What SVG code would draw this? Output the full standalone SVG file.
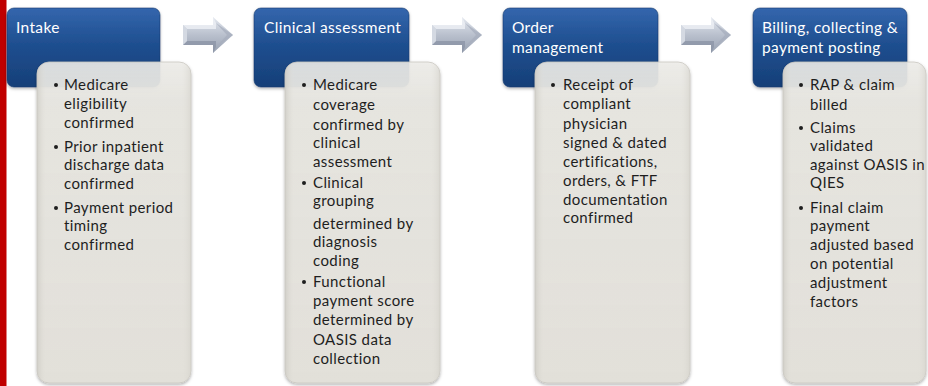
<svg xmlns="http://www.w3.org/2000/svg" width="928" height="386" viewBox="0 0 928 386">
<style>
.hd{font-family:Lato,"Noto Sans","DejaVu Sans",sans-serif;font-size:15.5px;letter-spacing:0.35px;fill:#ffffff}
.bd{font-family:Lato,"Noto Sans","DejaVu Sans",sans-serif;font-size:15px;letter-spacing:0.4px;fill:#1e1e1e}
.blue{fill:url(#gBlue);stroke:#163a6e;stroke-width:0.6}
.gray{fill:url(#gGray);stroke:#c9c7c0;stroke-width:0.8}
.bul{fill:#1e1e1e}
</style>
<defs>
<linearGradient id="gBlue" x1="0" y1="0" x2="0" y2="1">
<stop offset="0" stop-color="#3466ad"/>
<stop offset="0.45" stop-color="#1f4f90"/>
<stop offset="1" stop-color="#163f78"/>
</linearGradient>
<linearGradient id="gGray" x1="0" y1="0" x2="0" y2="1">
<stop offset="0" stop-color="#efeeea" stop-opacity="0.88"/>
<stop offset="0.12" stop-color="#e6e5e0" stop-opacity="0.95"/>
<stop offset="1" stop-color="#e2e0d9"/>
</linearGradient>
<linearGradient id="gGrayEdge" x1="0" y1="0" x2="1" y2="0">
<stop offset="0" stop-color="#c9c7c0" stop-opacity="0.7"/>
<stop offset="0.06" stop-color="#e2e0d9" stop-opacity="0"/>
<stop offset="0.94" stop-color="#e2e0d9" stop-opacity="0"/>
<stop offset="1" stop-color="#d2d0c9" stop-opacity="0.6"/>
</linearGradient>
<linearGradient id="gArrow" x1="0" y1="0" x2="0" y2="1">
<stop offset="0" stop-color="#e4e8ef"/>
<stop offset="0.5" stop-color="#b9c0cd"/>
<stop offset="1" stop-color="#98a1b1"/>
</linearGradient>
<filter id="sh" x="-10%" y="-10%" width="120%" height="120%">
<feDropShadow dx="0" dy="1.5" stdDeviation="1.5" flood-color="#000" flood-opacity="0.3"/>
</filter>
<g id="arrow">
<path d="M0,8 L30,8 L30,0 L50,18 L30,36 L30,28 L0,28 Z" fill="url(#gArrow)"/>
<path d="M0,8 L30,8 L30,0 L33,6 L33,12 L4,12 Z" fill="#eef0f5" opacity="0.8"/>
<path d="M0,28 L4,24 L33,24 L33,30 L30,36 L30,28 Z" fill="#8c95a6" opacity="0.8"/>
<path d="M33,6 L50,18 L33,30 L44,18 Z" fill="#a5adbc" opacity="0.7"/>
<path d="M0,8 L4,12 L4,24 L0,28 Z" fill="#d4d9e2"/>
</g>
</defs>
<rect x="0" y="0" width="6.5" height="386" fill="#c00000"/>
<g id="connectors">
<use href="#arrow" x="183" y="17"/>
<use href="#arrow" x="432" y="17"/>
<use href="#arrow" x="681" y="17"/>
</g>
<g id="intake">
<rect class="blue" x="7" y="8" width="153" height="79" rx="7" filter="url(#sh)"/>
<text class="hd" x="16" y="33">Intake</text>
<rect class="gray" x="37" y="62" width="154" height="321" rx="12" filter="url(#sh)"/>
<rect x="37" y="62" width="154" height="321" rx="12" fill="url(#gGrayEdge)"/>
<circle class="bul" cx="56" cy="85" r="2"/>
<text class="bd" x="64" y="90">Medicare</text>
<text class="bd" x="64" y="109">eligibility</text>
<text class="bd" x="64" y="128">confirmed</text>
<circle class="bul" cx="56" cy="147" r="2"/>
<text class="bd" x="64" y="152">Prior inpatient</text>
<text class="bd" x="64" y="170">discharge data</text>
<text class="bd" x="64" y="189">confirmed</text>
<circle class="bul" cx="56" cy="208" r="2"/>
<text class="bd" x="64" y="213">Payment period</text>
<text class="bd" x="64" y="231">timing</text>
<text class="bd" x="64" y="250">confirmed</text>
</g>
<g id="clinical">
<rect class="blue" x="254" y="8" width="155" height="79" rx="7" filter="url(#sh)"/>
<text class="hd" x="264" y="33">Clinical assessment</text>
<rect class="gray" x="285" y="62" width="155" height="321" rx="12" filter="url(#sh)"/>
<rect x="285" y="62" width="155" height="321" rx="12" fill="url(#gGrayEdge)"/>
<circle class="bul" cx="304" cy="85" r="2"/>
<text class="bd" x="313" y="90">Medicare</text>
<text class="bd" x="313" y="110">coverage</text>
<text class="bd" x="313" y="130">confirmed by</text>
<text class="bd" x="313" y="148">clinical</text>
<text class="bd" x="313" y="167">assessment</text>
<circle class="bul" cx="304" cy="183" r="2"/>
<text class="bd" x="313" y="188">Clinical</text>
<text class="bd" x="313" y="206">grouping</text>
<text class="bd" x="313" y="229">determined by</text>
<text class="bd" x="313" y="247">diagnosis</text>
<text class="bd" x="313" y="266">coding</text>
<circle class="bul" cx="304" cy="282" r="2"/>
<text class="bd" x="313" y="287">Functional</text>
<text class="bd" x="313" y="306">payment score</text>
<text class="bd" x="313" y="325">determined by</text>
<text class="bd" x="313" y="345">OASIS data</text>
<text class="bd" x="313" y="364">collection</text>
</g>
<g id="order">
<rect class="blue" x="503" y="8" width="155" height="79" rx="7" filter="url(#sh)"/>
<text class="hd" x="512" y="33">Order</text>
<text class="hd" x="512" y="53">management</text>
<rect class="gray" x="535" y="62" width="155" height="321" rx="12" filter="url(#sh)"/>
<rect x="535" y="62" width="155" height="321" rx="12" fill="url(#gGrayEdge)"/>
<circle class="bul" cx="553" cy="85" r="2"/>
<text class="bd" x="563" y="90">Receipt of</text>
<text class="bd" x="563" y="109">compliant</text>
<text class="bd" x="563" y="129">physician</text>
<text class="bd" x="563" y="148">signed &amp; dated</text>
<text class="bd" x="563" y="167">certifications,</text>
<text class="bd" x="563" y="186">orders, &amp; FTF</text>
<text class="bd" x="563" y="205">documentation</text>
<text class="bd" x="563" y="223">confirmed</text>
</g>
<g id="billing">
<rect class="blue" x="753" y="8" width="154" height="79" rx="7" filter="url(#sh)"/>
<text class="hd" x="762" y="33">Billing, collecting &amp;</text>
<text class="hd" x="762" y="53">payment posting</text>
<rect class="gray" x="783" y="62" width="143" height="321" rx="12" filter="url(#sh)"/>
<rect x="783" y="62" width="143" height="321" rx="12" fill="url(#gGrayEdge)"/>
<circle class="bul" cx="801" cy="85" r="2"/>
<text class="bd" x="810" y="90">RAP &amp; claim</text>
<text class="bd" x="810" y="110">billed</text>
<circle class="bul" cx="801" cy="128" r="2"/>
<text class="bd" x="810" y="133">Claims</text>
<text class="bd" x="810" y="151">validated</text>
<text class="bd" x="810" y="170" letter-spacing="0.2">against OASIS in</text>
<text class="bd" x="810" y="188">QIES</text>
<circle class="bul" cx="801" cy="208" r="2"/>
<text class="bd" x="810" y="213">Final claim</text>
<text class="bd" x="810" y="231">payment</text>
<text class="bd" x="810" y="250">adjusted based</text>
<text class="bd" x="810" y="269">on potential</text>
<text class="bd" x="810" y="288">adjustment</text>
<text class="bd" x="810" y="307">factors</text>
</g>
</svg>
